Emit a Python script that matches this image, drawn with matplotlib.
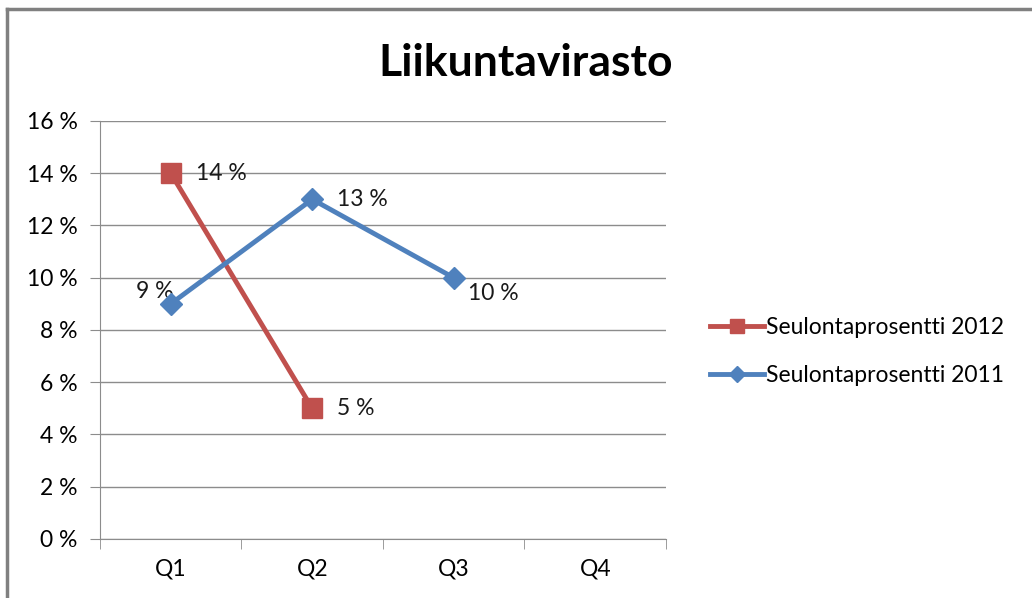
import matplotlib
matplotlib.use("Agg")
import matplotlib.pyplot as plt
from matplotlib.lines import Line2D
from matplotlib.ticker import FuncFormatter, MultipleLocator

plt.rcParams['font.family'] = ['Lato', 'DejaVu Sans']

quarters = ['Q1', 'Q2', 'Q3', 'Q4']
seulonta_2012 = [14, 5]
seulonta_2011 = [9, 13, 10]
labels_2012 = ['14 %', '5 %']
labels_2011 = ['9 %', '13 %', '10 %']

red = '#C0504D'
blue = '#4F81BD'
grid_c = '#8C8C8C'
fs = 16.5

fig = plt.figure(figsize=(10.32, 5.98), dpi=100)
ax = fig.add_axes([0.0969, 0.0987, 0.5484, 0.699])

x12 = list(range(len(seulonta_2012)))
x11 = list(range(len(seulonta_2011)))
ax.plot(x12, seulonta_2012, color=red, lw=3.5, marker='s', ms=14,
        label='Seulontaprosentti 2012', zorder=3)
ax.plot(x11, seulonta_2011, color=blue, lw=3.5, marker='D', ms=11,
        label='Seulontaprosentti 2011', zorder=4)

# data labels
for x, v, t in zip(x12, seulonta_2012, labels_2012):
    ax.annotate(t, (x, v), xytext=(18, 0), textcoords='offset points',
                ha='left', va='center', fontsize=fs, color='#1a1a1a')
offsets = [(2, 9, 'right'), (18, 0, 'left'), (10, -11, 'left')]
for (x, v, t), (dx, dy, ha) in zip(zip(x11, seulonta_2011, labels_2011), offsets):
    ax.annotate(t, (x, v), xytext=(dx, dy), textcoords='offset points',
                ha=ha, va='center', fontsize=fs, color='#1a1a1a')

ax.set_xlim(-0.5, 3.5)
ax.set_ylim(0, 16)
ax.yaxis.set_major_locator(MultipleLocator(2))
ax.yaxis.set_major_formatter(FuncFormatter(lambda v, p: f'{v:.0f} %'))
ax.set_xticks(range(len(quarters)))
ax.set_xticklabels(quarters)
ax.set_xticks([-0.5, 0.5, 1.5, 2.5, 3.5], minor=True)
ax.tick_params(axis='x', which='major', length=0, pad=14, labelsize=fs)
ax.tick_params(axis='x', which='minor', length=7, color=grid_c)
ax.tick_params(axis='y', length=7, color=grid_c, labelsize=fs, pad=9)
ax.grid(axis='y', color=grid_c, lw=1)
ax.set_axisbelow(True)
for s in ['top', 'right']:
    ax.spines[s].set_visible(False)
for s in ['left', 'bottom']:
    ax.spines[s].set_color(grid_c)

fig.text(0.509, 0.895, 'Liikuntavirasto', ha='center', va='center',
         fontsize=32, fontweight='bold')

handles, lbls = ax.get_legend_handles_labels()
fig.legend(handles, lbls, loc='center left', bbox_to_anchor=(0.668, 0.412),
           frameon=False, fontsize=fs, handlelength=2.35, handletextpad=0.1,
           labelspacing=1.2, markerscale=0.75)

# outer frame (left and top edges visible)
fig.add_artist(Line2D([0.0068, 0.0068], [0, 0.985], color='#808080', lw=2.5))
fig.add_artist(Line2D([0.0068, 1.0], [0.985, 0.985], color='#808080', lw=2.5))

fig.savefig('out.png', dpi=100)
